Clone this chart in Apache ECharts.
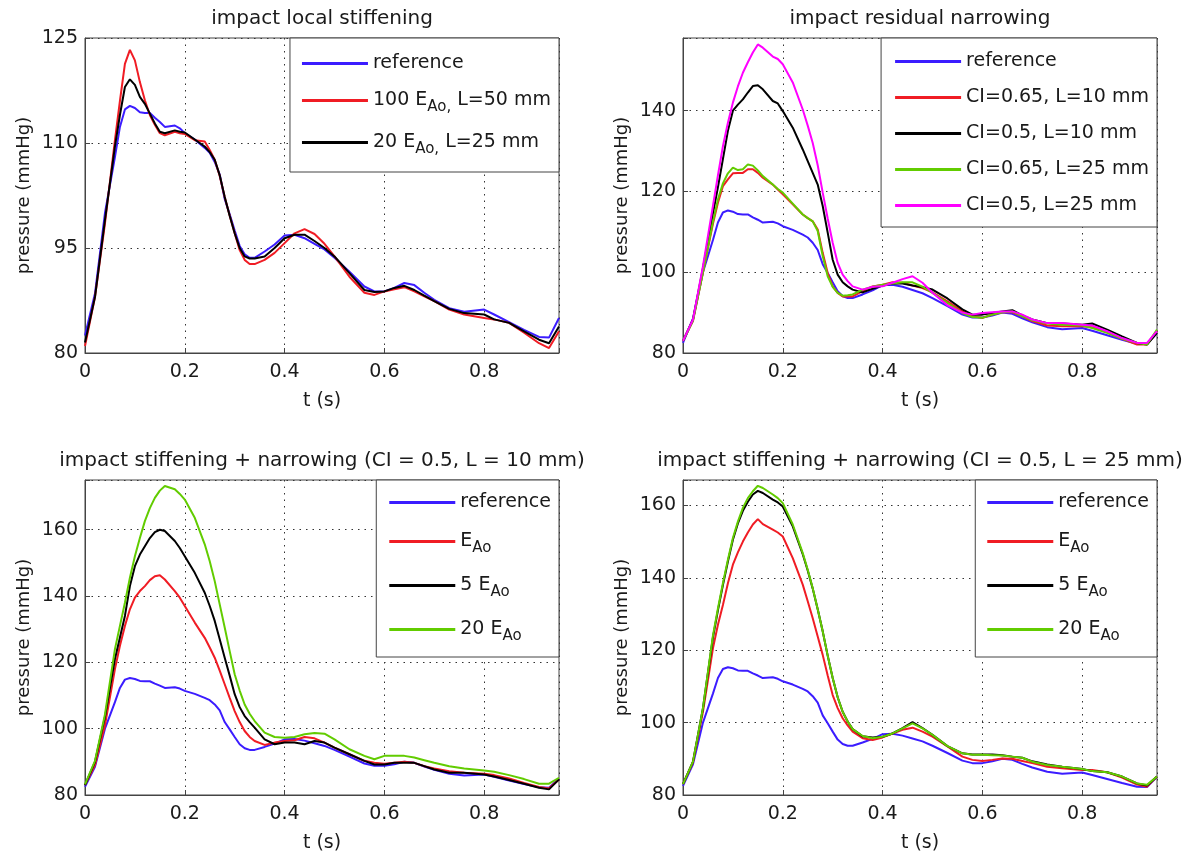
<!DOCTYPE html>
<html>
<head>
<meta charset="utf-8">
<title>pressure curves</title>
<script src="https://cdn.jsdelivr.net/npm/echarts@6/dist/echarts.min.js"></script>
<style>
html,body{margin:0;padding:0;background:#fff;}
#chart{width:1193px;height:860px;}
</style>
</head>
<body>
<div id="chart"></div>
<script>
// time axis (s), shared by every curve
var t = [0, 0.02, 0.04, 0.06, 0.07, 0.08, 0.09, 0.10, 0.11, 0.12, 0.13, 0.14, 0.15, 0.16, 0.18, 0.19,
	0.20, 0.22, 0.24, 0.25, 0.26, 0.27, 0.28, 0.29, 0.30, 0.31, 0.32, 0.33, 0.34, 0.36, 0.38, 0.40,
	0.42, 0.44, 0.46, 0.48, 0.50, 0.53, 0.56, 0.58, 0.60, 0.62, 0.64, 0.66, 0.68, 0.70, 0.73, 0.76,
	0.80, 0.82, 0.85, 0.88, 0.91, 0.93, 0.95];

// reference pressure (mmHg), same in all four panels
var ref = [82.5, 88.5, 100, 108, 112.3, 114.8, 115.3, 115, 114.4, 114.3, 114.3, 113.6, 113, 112.3, 112.5, 112.1,
	111.4, 110.5, 109.3, 108.6, 107.3, 105.5, 102, 99.8, 97.5, 95.3, 94.1, 93.6, 93.6, 94.5, 95.5, 96.8,
	96.9, 96.4, 95.6, 94.8, 93.6, 91.6, 89.5, 88.8, 88.8, 89.3, 90, 89.7, 88.6, 87.6, 86.4, 85.9,
	86.2, 85.5, 84.4, 83.3, 82.3, 82.2, 85];

// local stiffening
var stiff100L50 = [81, 88, 98.5, 110.4, 116, 121.3, 123.3, 121.8, 118.7, 116.1, 114, 112.6, 111.4, 111.1, 111.6, 111.4,
	111.3, 110.4, 110.2, 109, 107.6, 105.3, 102.3, 99.6, 97.1, 94.7, 93.3, 92.7, 92.7, 93.3, 94.3, 95.7,
	97.1, 97.7, 97, 95.6, 93.8, 90.9, 88.6, 88.3, 88.8, 89.1, 89.4, 88.8, 88.1, 87.4, 86.2, 85.5,
	85, 84.8, 84.3, 82.9, 81.4, 80.7, 83.1];
var stiff20L25 = [81.5, 88, 99, 109.5, 114, 118, 119.1, 118.3, 116.6, 115.6, 114.2, 112.8, 111.6, 111.4, 111.8, 111.6,
	111.5, 110.5, 109.5, 108.7, 107.6, 105.4, 102.3, 99.6, 97.1, 95, 93.8, 93.5, 93.5, 93.8, 95, 96.4,
	96.9, 96.9, 96, 95, 93.8, 91.4, 89, 88.7, 88.8, 89.3, 89.6, 89, 88.2, 87.4, 86.3, 85.7,
	85.5, 84.8, 84.3, 83.1, 81.9, 81.4, 83.8];

// residual narrowing
var ci065L10 = [83, 88, 100, 112, 117.2, 121.3, 123, 124.5, 124.6, 124.6, 125.5, 125.5, 124.6, 123.4, 121.7, 120.5,
	119.3, 116.8, 114.3, 113.4, 112.6, 110.6, 104.8, 99.8, 96.5, 94.9, 94, 94, 94, 95.3, 96.5, 96.9,
	97.5, 97.4, 96.7, 96.1, 95, 92.8, 90.3, 89.1, 88.7, 89.5, 90.1, 90.1, 89.1, 87.9, 86.8, 86.6,
	86.6, 86.4, 85.1, 83.5, 82.1, 82.1, 85.4];
var ci05L10 = [83, 88.3, 101, 114.5, 121, 128, 135, 140, 141.5, 142.8, 144.5, 146.1, 146.3, 145.3, 142.4, 141.8,
	139.9, 135.8, 130.4, 127.5, 124.6, 121.7, 116.4, 109.8, 103.1, 99.4, 97.5, 96.5, 95.7, 95, 95.9, 96.7,
	97.2, 97.2, 96.7, 96.3, 95.7, 93.5, 90.8, 89.5, 89.5, 89.9, 90.3, 90.6, 89.3, 88.3, 87.4, 87.3,
	87, 87.3, 85.8, 84.1, 82.5, 82.1, 85];
var ci065L25 = [83, 88, 100, 112.5, 118, 122, 124.5, 125.9, 125.3, 125.5, 126.7, 126.4, 125.2, 123.8, 121.7, 120.6,
	119.7, 117, 114.3, 113.4, 112.6, 110.2, 104, 99, 96.4, 94.9, 94.2, 94.3, 94.5, 95.7, 96.4, 96.9,
	97.2, 97.5, 97.5, 96.4, 94.9, 92.4, 89.9, 88.9, 88.7, 89.5, 90.1, 90.3, 89.1, 88.1, 87.3, 87,
	86.8, 86.2, 85, 83.5, 82.5, 82.1, 85.8];
var ci05L25 = [83, 88.3, 101.5, 116.4, 124, 131.2, 137, 142, 146, 149.4, 152, 154.4, 156.4, 155.6, 153.4, 152.8,
	151.5, 147, 140.3, 136.3, 132, 126.5, 119.7, 113.3, 107.3, 102.3, 99.4, 97.8, 96.5, 95.7, 96.4, 96.5,
	97.4, 98.3, 99, 97.4, 94.9, 91.8, 90, 89.5, 89.9, 90.1, 90.3, 90.3, 89.5, 88.3, 87.4, 87.4,
	87, 86.8, 85.4, 83.7, 82.5, 82.5, 85.4];

// stiffening + narrowing, CI = 0.5, L = 10 mm
var sn10E1 = [83, 89, 101, 118, 125, 131, 136, 139.5, 141.5, 143, 144.8, 146, 146.3, 145, 141.5, 139.5,
	137, 132, 127.4, 124.5, 121.4, 117.5, 113.4, 109.3, 105.3, 102, 99.3, 97.5, 96.3, 95.1, 95.8, 96.3,
	96.5, 97.5, 97.1, 95.8, 94.3, 92.3, 90.3, 89.7, 89.4, 89.7, 90, 89.7, 88.7, 88, 87.2, 86.7,
	86.4, 86, 85, 83.6, 82.4, 82, 84.7];
var sn10E5 = [83, 90, 103.5, 121, 127.5, 134, 143, 149, 152.5, 155, 157.5, 159.3, 160, 159.6, 156.6, 154.5,
	152, 147, 141, 137, 132.5, 127, 121.4, 116, 110.4, 106.5, 103.8, 102, 100.3, 96.8, 95.3, 95.8,
	95.8, 95.3, 96.3, 95.8, 94.3, 92.3, 90.3, 89.2, 89.2, 89.7, 89.7, 89.7, 88.7, 87.7, 86.7, 86.7,
	86.2, 85.6, 84.5, 83.4, 82.2, 81.7, 84.7];
var sn10E20 = [83.2, 90.3, 104.3, 124, 131, 138, 145.5, 152, 157.5, 162.6, 166.5, 169.6, 171.8, 173.2, 172.2, 170.8,
	169.1, 163.6, 155.6, 150.5, 144.5, 137.5, 130.5, 123.4, 116.4, 111.5, 107.3, 104.5, 102.3, 98.8, 97.5, 97.3,
	97.5, 98.3, 98.7, 98.5, 96.8, 93.8, 91.8, 90.8, 91.8, 91.8, 91.8, 91.3, 90.5, 89.7, 88.7, 88,
	87.4, 87, 86, 84.8, 83.4, 83.4, 85.2];

// stiffening + narrowing, CI = 0.5, L = 25 mm
var sn25E1 = [83, 89, 103, 120.5, 127, 132.5, 138.5, 143.6, 147, 150, 152.5, 154.7, 156.2, 154.8, 153.3, 152.5,
	151.4, 145.4, 138.1, 133.5, 128.8, 123.8, 118.7, 113, 107.6, 104, 101.2, 99.2, 97.5, 95.7, 95.2, 95.9,
	97, 98, 98.6, 97.5, 96.1, 93.4, 90.6, 89.7, 89.4, 89.7, 90.1, 90, 89.4, 88.8, 87.8, 87.4,
	86.9, 86.9, 86.3, 84.8, 82.9, 82.3, 85.1];
var sn25E5 = [83, 89.2, 104, 123.5, 131, 138, 144.5, 150.5, 155, 158.5, 161, 163, 164, 163.4, 161.6, 160.8,
	159.7, 154.2, 146.5, 142, 137, 131.3, 125.2, 118.5, 112.3, 107, 103, 100.3, 98.2, 96.2, 95.9, 96.1,
	97, 98.5, 100.1, 98.5, 96.6, 93.5, 91.5, 91.2, 91.2, 91.2, 91, 90.6, 90.3, 89.3, 88.4, 87.8,
	87.2, 86.6, 86.3, 85.1, 83.2, 82.6, 85.1];
var sn25E20 = [83, 89.2, 104, 124, 131.5, 138.5, 145, 151, 155.5, 159.3, 162, 163.9, 165.4, 164.8, 163, 162,
	160.6, 154.7, 146.8, 142.2, 137.1, 131.3, 125.2, 118.5, 112.3, 107, 103, 100.3, 98.2, 96.3, 95.7, 96.1,
	97, 98.4, 99.8, 98.4, 96.6, 93.5, 91.5, 91.1, 91.1, 91, 90.9, 90.6, 90.3, 89.2, 88.3, 87.8,
	87.2, 86.6, 86.3, 85.1, 83.2, 82.8, 85.1];

// axis limits per panel
var yMax = [125, 158, 175, 167];
var yStep = [15, 20, 20, 20];
var titles = ['impact local stiffening', 'impact residual narrowing',
	'impact stiffening + narrowing (CI = 0.5, L = 10 mm)',
	'impact stiffening + narrowing (CI = 0.5, L = 25 mm)'];

var BLUE = '#3b1cff', RED = '#f01c24', BLACK = '#000000', GREEN = '#62cc00', MAGENTA = '#ff00ff';
var FONT = 'DejaVu Sans';
var TXT = '#1a1a1a';
var FRAME = '#444444';

var panels = [
	{left: 85, top: 38, names: ['reference', '100 E_Ao, L=50 mm', '20 E_Ao, L=25 mm'],
		data: [ref, stiff100L50, stiff20L25], colors: [BLUE, RED, BLACK], lg: {pad: [16, 8, 15, 12], gap: 18}},
	{left: 683, top: 38, names: ['reference', 'CI=0.65, L=10 mm', 'CI=0.5, L=10 mm', 'CI=0.65, L=25 mm', 'CI=0.5, L=25 mm'],
		data: [ref, ci065L10, ci05L10, ci065L25, ci05L25], colors: [BLUE, RED, BLACK, GREEN, MAGENTA], lg: {pad: [14, 8, 12, 14], gap: 17}},
	{left: 85, top: 480, names: ['reference', 'E_Ao', '5 E_Ao', '20 E_Ao'],
		data: [ref, sn10E1, sn10E5, sn10E20], colors: [BLUE, RED, BLACK, GREEN], lg: {pad: [13, 8, 13, 13], gap: 20}},
	{left: 683, top: 480, names: ['reference', 'E_Ao', '5 E_Ao', '20 E_Ao'],
		data: [ref, sn25E1, sn25E5, sn25E20], colors: [BLUE, RED, BLACK, GREEN], lg: {pad: [13, 8, 13, 12], gap: 20}}
];
var W = 474, H = 315;

function pairs(arr) {
	return t.map(function (x, i) { return [x, arr[i]]; });
}
// E_Ao -> E with subscript Ao
function legendText(name) {
	return name.replace(/_(Ao,?)/, '{sub|$1}');
}

var option = {
	animation: false,
	backgroundColor: '#ffffff',
	title: [], grid: [], xAxis: [], yAxis: [], legend: [], series: []
};

panels.forEach(function (p, i) {
	option.title.push({
		text: titles[i], left: p.left + W / 2, top: p.top - 29, textAlign: 'center', padding: 0,
		textStyle: {fontFamily: FONT, fontSize: 20, fontWeight: 'normal', color: TXT}
	});
	option.grid.push({
		left: p.left, top: p.top, width: W, height: H,
		show: true, borderColor: FRAME, borderWidth: 1, backgroundColor: '#fff'
	});
	option.xAxis.push({
		gridIndex: i, type: 'value', min: 0, max: 0.95, interval: 0.2,
		name: 't (s)', nameLocation: 'middle', nameGap: 39,
		nameTextStyle: {fontFamily: FONT, fontSize: 19, color: TXT},
		axisLine: {show: true, onZero: false, lineStyle: {color: FRAME, width: 1}},
		axisTick: {show: true, inside: true, length: 5, lineStyle: {color: FRAME}},
		axisLabel: {
			margin: 10, fontFamily: FONT, fontSize: 19, color: TXT,
			formatter: function (v) {
				var k = v / 0.2;
				return Math.abs(k - Math.round(k)) < 1e-6 ? String(+v.toFixed(1)) : '';
			}
		},
		splitLine: {show: true, lineStyle: {color: '#333', width: 1, type: [1.5, 5]}}
	});
	option.yAxis.push({
		gridIndex: i, type: 'value', min: 80, max: yMax[i], interval: yStep[i],
		name: 'pressure (mmHg)', nameLocation: 'middle', nameGap: 52,
		nameTextStyle: {fontFamily: FONT, fontSize: 18, color: TXT},
		axisLine: {show: true, onZero: false, lineStyle: {color: FRAME, width: 1}},
		axisTick: {show: true, inside: true, length: 5, lineStyle: {color: FRAME}},
		axisLabel: {
			margin: 7, fontFamily: FONT, fontSize: 19, color: TXT,
			formatter: function (v) { return (v - 80) % yStep[i] === 0 ? String(v) : ''; }
		},
		splitLine: {show: true, lineStyle: {color: '#333', width: 1, type: [1.5, 5]}}
	});
	option.legend.push({
		data: p.names, orient: 'vertical', right: 1193 - (p.left + W), top: p.top,
		padding: p.lg.pad, itemGap: p.lg.gap, itemWidth: 66, itemHeight: 3, icon: 'rect',
		backgroundColor: '#fff', borderColor: FRAME, borderWidth: 1, borderRadius: 0,
		selectedMode: false, formatter: legendText,
		textStyle: {
			fontFamily: FONT, fontSize: 19, color: TXT,
			rich: {sub: {fontFamily: FONT, fontSize: 15, color: TXT, padding: [14, 0, 0, 0]}}
		}
	});
	p.names.forEach(function (name, k) {
		option.series.push({
			type: 'line', name: name, xAxisIndex: i, yAxisIndex: i,
			data: pairs(p.data[k]), showSymbol: false, symbol: 'none',
			lineStyle: {width: 2, color: p.colors[k]}, itemStyle: {color: p.colors[k]},
			z: 2 + k
		});
	});
});

var myChart = echarts.init(document.getElementById('chart'));
myChart.setOption(option);
</script>
</body>
</html>
